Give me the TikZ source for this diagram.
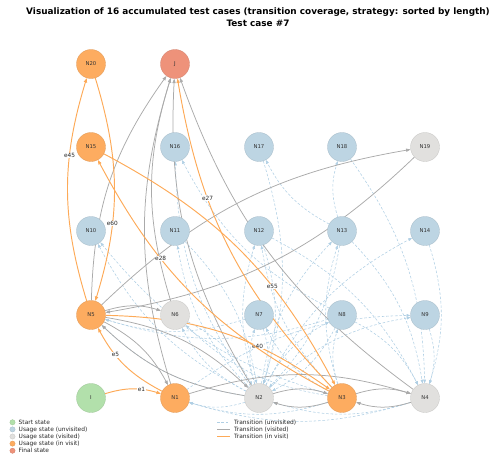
\documentclass[tikz,border=0pt]{standalone}
\usepackage{fontspec}
\setmainfont{DejaVu Sans}
\usetikzlibrary{arrows.meta,backgrounds}

\definecolor{startc}{RGB}{178,224,171}
\definecolor{unvis}{RGB}{189,213,227}
\definecolor{vis}{RGB}{225,224,222}
\definecolor{invis}{RGB}{253,172,96}
\definecolor{finalc}{RGB}{238,146,122}
\definecolor{edgegray}{RGB}{170,170,170}
\definecolor{edgeorange}{RGB}{253,170,88}
\definecolor{edgeblue}{RGB}{176,207,228}

\tikzset{
  st/.style={circle, minimum size=29pt, inner sep=0pt, fill=#1, draw=#1!88!black,
    line width=0.3pt, text=black!80, font=\fontsize{5.3}{5.3}\selectfont},
  unv/.style={draw=edgeblue, line width=0.55pt, dash pattern=on 2.6pt off 1.8pt,
    -{Triangle[length=3.8pt,width=2.8pt]}, bend left=17},
  vst/.style={draw=edgegray, line width=0.75pt,
    -{Triangle[length=4.5pt,width=3.2pt]}, bend left=17},
  inv/.style={draw=edgeorange, line width=0.95pt,
    -{Triangle[length=4.5pt,width=3.2pt]}, bend left=17},
  elab/.style={fill=white, inner sep=0.5pt, pos=0.66, text=black!85,
    font=\fontsize{5.8}{6}\selectfont},
  legtext/.style={anchor=west, inner sep=0pt, text=black!85,
    font=\fontsize{5.9}{6}\selectfont},
  legdot/.style={circle, minimum size=5.4pt, inner sep=0pt, fill=#1, draw=#1!85!black, line width=0.2pt},
}

\begin{document}
\begin{tikzpicture}[x=1pt,y=-1pt]
\useasboundingbox (0,0) rectangle (492,460);

% title
\node[font=\bfseries\fontsize{8.9}{9}\selectfont] (title) at (258,12)
  {Visualization of 16 accumulated test cases (transition coverage, strategy: sorted by length)};
\node[font=\bfseries\fontsize{8.9}{9}\selectfont] (subtitle) at (258,23) {Test case \#7};

% states, row by row
\node[st=invis]  (N20) at (91,64)  {N20};
\node[st=finalc] (J)   at (175,64) {J};

\node[st=invis] (N15) at (91,147)  {N15};
\node[st=unvis] (N16) at (175,147) {N16};
\node[st=unvis] (N17) at (259,147) {N17};
\node[st=unvis] (N18) at (342,147) {N18};
\node[st=vis]   (N19) at (425,147) {N19};

\node[st=unvis] (N10) at (91,231)  {N10};
\node[st=unvis] (N11) at (175,231) {N11};
\node[st=unvis] (N12) at (259,231) {N12};
\node[st=unvis] (N13) at (342,231) {N13};
\node[st=unvis] (N14) at (425,231) {N14};

\node[st=invis] (N5) at (91,315)  {N5};
\node[st=vis]   (N6) at (175,315) {N6};
\node[st=unvis] (N7) at (259,315) {N7};
\node[st=unvis] (N8) at (342,315) {N8};
\node[st=unvis] (N9) at (425,315) {N9};

\node[st=startc] (I)  at (91,398)  {I};
\node[st=invis]  (N1) at (175,398) {N1};
\node[st=vis]    (N2) at (259,398) {N2};
\node[st=invis]  (N3) at (342,398) {N3};
\node[st=vis]    (N4) at (425,398) {N4};

\begin{scope}[on background layer]
  % transitions not yet visited
  \foreach \a/\b in {N2/N5,N2/N6,N2/N7,N2/N8,N2/N9,N2/N10,N2/N11,N2/N12,N2/N13,N2/N14,N2/N16,
                     N3/N6,N3/N7,N3/N8,N3/N12,N3/N13,N3/N10,
                     N7/N2,N8/N2,N11/N2,N12/N2,N13/N2,N6/N2,N17/N2,
                     N8/N4,N9/N4,N13/N4,N14/N4,N18/N4,N12/N4,
                     N13/N17,N13/N18,N8/N16,
                     N4/N2,N4/N1,N3/N1,N2/N1,
                     N7/N5,N8/N5,N1/N9}
    \draw[unv] (\a) to (\b);

  % visited transitions
  \foreach \a/\b in {N5/J,N1/J,N6/J,N2/J,N4/J,
                     N5/N19,N19/N5,N5/N6,N5/N1,N5/N2,N2/N5,
                     N1/N4,N2/N3,N3/N2,N3/N4,N4/N3}
    \draw[vst] (\a) to (\b);

  % transitions of the current test case
  \draw[inv] (I)   to node[elab] {e1}  (N1);
  \draw[inv] (N1)  to node[elab] {e5}  (N5);
  \draw[inv] (N5)  to node[elab] {e45} (N20);
  \draw[inv] (N20) to node[elab] {e60} (N5);
  \draw[inv] (N5)  to node[elab] {e40} (N3);
  \draw[inv] (N3)  to node[elab] {e28} (N15);
  \draw[inv] (N15) to node[elab] {e55} (N3);
  \draw[inv] (N3)  to node[elab] {e27} (J);
\end{scope}

% legend: states
\node[legdot=startc] (d1) at (12.5,422.3) {};
\node[legdot=unvis]  (d2) at (12.5,429.4) {};
\node[legdot=vis]    (d3) at (12.5,436.5) {};
\node[legdot=invis]  (d4) at (12.5,443.6) {};
\node[legdot=finalc] (d5) at (12.5,450.7) {};
\node[legtext] (t1) at (18.5,422.3) {Start state};
\node[legtext] (t2) at (18.5,429.4) {Usage state (unvisited)};
\node[legtext] (t3) at (18.5,436.5) {Usage state (visited)};
\node[legtext] (t4) at (18.5,443.6) {Usage state (in visit)};
\node[legtext] (t5) at (18.5,450.7) {Final state};

% legend: transitions
\coordinate (la1) at (217,422.3); \coordinate (lb1) at (229.5,422.3);
\coordinate (la2) at (217,429.3); \coordinate (lb2) at (229.5,429.3);
\coordinate (la3) at (217,436.3); \coordinate (lb3) at (229.5,436.3);
\draw[draw=edgeblue, line width=0.55pt, dash pattern=on 2.6pt off 1.8pt] (la1) -- (lb1);
\draw[draw=edgegray, line width=0.75pt] (la2) -- (lb2);
\draw[draw=edgeorange, line width=0.95pt] (la3) -- (lb3);
\node[legtext] (u1) at (234,422.3) {Transition (unvisited)};
\node[legtext] (u2) at (234,429.3) {Transition (visited)};
\node[legtext] (u3) at (234,436.3) {Transition (in visit)};
\end{tikzpicture}
\end{document}
